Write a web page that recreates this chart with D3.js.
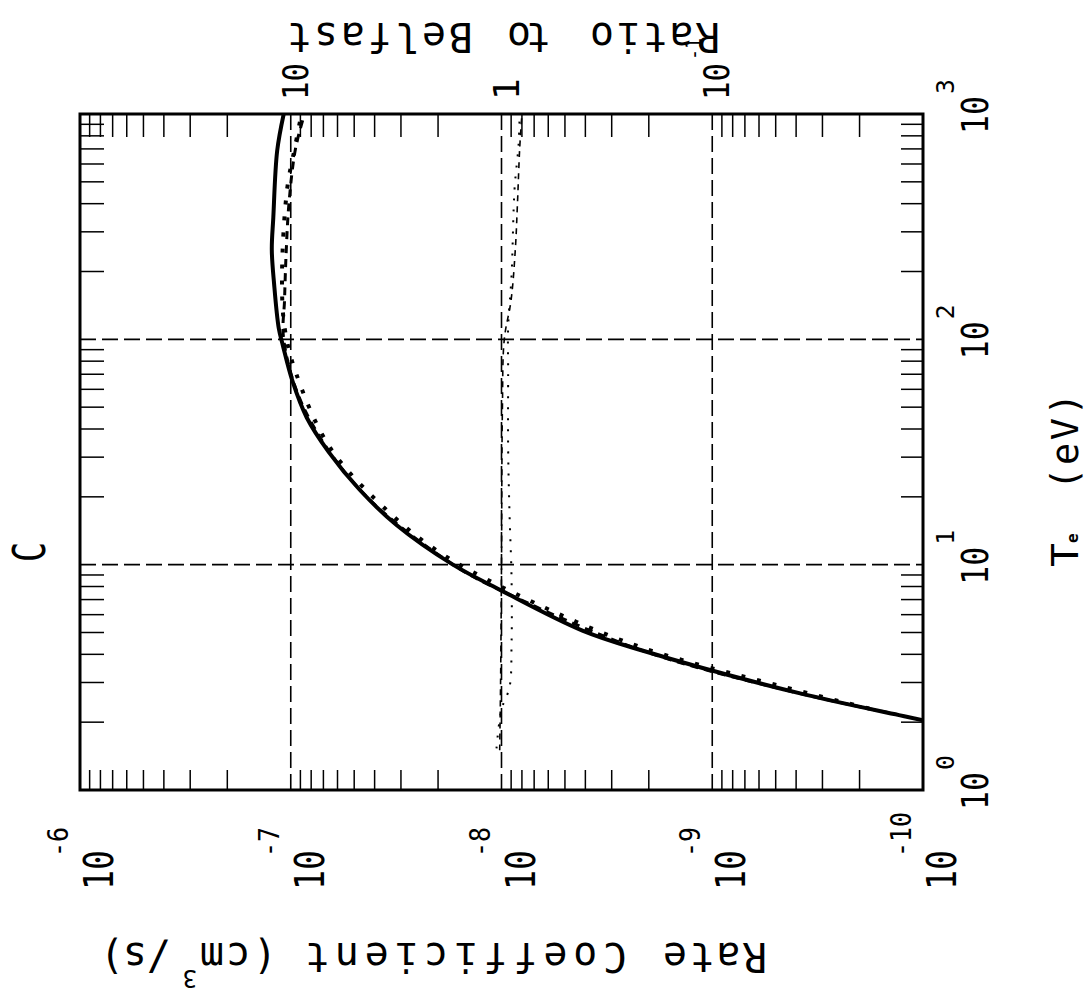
<!DOCTYPE html>
<html>
<head>
<meta charset="utf-8">
<script src="https://cdn.jsdelivr.net/npm/d3@7"></script>
<style>
body { margin: 0; background: #fff; }
svg { display: block; }
text { font-family: "DejaVu Sans Mono", monospace; fill: #000; }
</style>
</head>
<body>
<svg width="1092" height="1001"></svg>
<script>
var temps = [2.04, 2.15, 2.69, 4.16, 5.1, 7.67, 10, 15, 21.5, 31.6, 45, 65, 94, 112, 177, 250, 347, 686, 1000];
var rate = [1.0e-10, 1.3e-10, 3.87e-10, 2.15e-9, 4.13e-9, 1.0e-8, 1.7e-8, 3.15e-8, 4.71e-8, 6.6e-8, 8.4e-8, 9.8e-8, 1.09e-7, 1.14e-7, 1.2e-7, 1.23e-7, 1.21e-7, 1.16e-7, 1.08e-7];

var tempsDot = [2.3, 2.9, 4.5, 8.7, 12, 17, 33, 72, 113, 192, 465, 730, 1000];
var rateDot = [1.8e-10, 4.8e-10, 2.5e-9, 1.2e-8, 2.15e-8, 3.4e-8, 6.5e-8, 9.5e-8, 1.07e-7, 1.1e-7, 1.04e-7, 9.5e-8, 8.9e-8];

var tempsDash = [2.2, 2.69, 4.16, 7.67, 10, 21.5, 50, 100, 150, 250, 400, 700, 1000];
var rateDash = [1.45e-10, 3.9e-10, 2.15e-9, 1.0e-8, 1.7e-8, 4.7e-8, 8.7e-8, 1.08e-7, 1.07e-7, 1.05e-7, 1.02e-7, 9.5e-8, 8.6e-8];

var tempsRatioA = [1.53, 2.28, 2.86, 4.47, 8.7, 16.8, 32.6, 72, 113, 192, 465, 728, 1000];
var ratioA = [1.056, 1.0, 0.916, 0.896, 0.896, 0.916, 0.93, 0.93, 0.93, 0.896, 0.867, 0.83, 0.82];

var tempsRatioB = [1.5, 3, 10, 50, 100, 150, 250, 400, 700, 1000];
var ratioB = [1.02, 1.01, 1.0, 0.99, 0.97, 0.9, 0.86, 0.84, 0.82, 0.80];

// tick labels
var rateTicks = [1e-6, 1e-7, 1e-8, 1e-9, 1e-10];
var rateExp = ["-6", "-7", "-8", "-9", "-10"];
var tempTicks = [1, 10, 100, 1000];
var tempExp = ["0", "1", "2", "3"];
var ratioTicks = [10, 1, 0.1];
var ratioBase = ["10", "1", "10"];
var ratioExp = ["", "", "-1"];

var svg = d3.select("svg"),
	plotL = 80, plotR = 923, plotT = 114, plotB = 790;

var xRate = d3.scaleLog().domain([1e-6, 1e-10]).range([plotL, plotR]);
var xRatio = d3.scaleLog().domain([100, 0.01]).range([plotL, plotR]);
var yT = d3.scaleLog().domain([1, 1000]).range([plotB, plotT]);

svg.append("rect").attr("width", 1092).attr("height", 1001).attr("fill", "#fff");

svg.append("clipPath").attr("id", "frame")
	.append("rect").attr("x", plotL).attr("y", plotT)
	.attr("width", plotR - plotL).attr("height", plotB - plotT);

// dashed grid
var grid = svg.append("g").attr("stroke", "#000").attr("stroke-width", 1.6)
	.attr("stroke-dasharray", "16,6").attr("fill", "none");
grid.selectAll(".gv").data(rateTicks.slice(1, 4)).enter().append("line")
	.attr("x1", function(d) { return xRate(d); }).attr("x2", function(d) { return xRate(d); })
	.attr("y1", plotT).attr("y2", plotB);
grid.selectAll(".gh").data(tempTicks.slice(1, 3)).enter().append("line")
	.attr("y1", function(d) { return yT(d); }).attr("y2", function(d) { return yT(d); })
	.attr("x1", plotL).attr("x2", plotR);

// minor ticks on all four edges
var isMinor = function(d) { return Math.abs(Math.log10(d) - Math.round(Math.log10(d))) > 1e-6; };
var ticks = svg.append("g").attr("stroke", "#000").attr("stroke-width", 1.5);
var tTicks = yT.ticks().filter(isMinor);
ticks.selectAll(".tr").data(tTicks).enter().append("line")
	.attr("x1", plotR).attr("x2", plotR - 22)
	.attr("y1", function(d) { return yT(d); }).attr("y2", function(d) { return yT(d); });
ticks.selectAll(".tl").data(tTicks).enter().append("line")
	.attr("x1", plotL).attr("x2", plotL + 24)
	.attr("y1", function(d) { return yT(d); }).attr("y2", function(d) { return yT(d); });
ticks.selectAll(".rb").data(xRate.ticks().filter(isMinor)).enter().append("line")
	.attr("x1", function(d) { return xRate(d); }).attr("x2", function(d) { return xRate(d); })
	.attr("y1", plotB).attr("y2", plotB - 20);
ticks.selectAll(".rt").data(xRatio.ticks().filter(isMinor)).enter().append("line")
	.attr("x1", function(d) { return xRatio(d); }).attr("x2", function(d) { return xRatio(d); })
	.attr("y1", plotT).attr("y2", plotT + 23);

// curves
var plot = svg.append("g").attr("clip-path", "url(#frame)").attr("fill", "none").attr("stroke", "#000");

var rateLine = d3.line().curve(d3.curveCatmullRom)
	.x(function(d) { return xRate(d[1]); })
	.y(function(d) { return yT(d[0]); });
var ratioLine = d3.line().curve(d3.curveCatmullRom)
	.x(function(d) { return xRatio(d[1]); })
	.y(function(d) { return yT(d[0]); });

plot.append("path").datum(d3.zip(tempsRatioB, ratioB)).attr("d", ratioLine)
	.attr("stroke-width", 1.6).attr("stroke-dasharray", "6,5");
plot.append("path").datum(d3.zip(tempsRatioA, ratioA)).attr("d", ratioLine)
	.attr("stroke-width", 2).attr("stroke-dasharray", "2,9");

plot.append("path").datum(d3.zip(tempsDash, rateDash)).attr("d", rateLine)
	.attr("stroke-width", 3).attr("stroke-dasharray", "8,6");
plot.append("path").datum(d3.zip(tempsDot, rateDot)).attr("d", rateLine)
	.attr("stroke-width", 4).attr("stroke-dasharray", "4,12");
plot.append("path").datum(d3.zip(temps, rate)).attr("d", rateLine)
	.attr("stroke-width", 4);

// frame
svg.append("rect").attr("x", plotL).attr("y", plotT)
	.attr("width", plotR - plotL).attr("height", plotB - plotT)
	.attr("fill", "none").attr("stroke", "#000").attr("stroke-width", 3);

// rotated power-of-ten labels
var powLabel = function(x, y, base, exp, o) {
	var g = svg.append("g").attr("transform", "translate(" + x + "," + y + ") rotate(-90)");
	g.append("text").text(base).attr("font-size", o.size)
		.attr("textLength", base.length > 1 ? o.len : null).attr("lengthAdjust", "spacingAndGlyphs");
	if (exp) {
		g.append("text").text(exp).attr("x", o.ex).attr("y", o.ey).attr("font-size", o.esize)
			.attr("textLength", exp.length * o.eper).attr("lengthAdjust", "spacingAndGlyphs");
	}
};

rateTicks.forEach(function(v, i) {
	powLabel(xRate(v) + 33, 890, "10", rateExp[i], {size: 41, len: 40, ex: 33, ey: -45, esize: 28, eper: 15});
});
tempTicks.forEach(function(v, i) {
	powLabel(988, yT(v) + 20, "10", tempExp[i], {size: 38, len: 38, ex: 40, ey: -34, esize: 25, eper: 15});
});
ratioTicks.forEach(function(v, i) {
	powLabel(xRatio(v) + 17, 100, ratioBase[i], ratioExp[i], {size: 36, len: 37, ex: 40, ey: -28, esize: 22, eper: 11});
});

// panel title
svg.append("g").attr("transform", "translate(45,562) rotate(-90)")
	.append("text").text("C").attr("font-size", 45)
	.attr("textLength", 20).attr("lengthAdjust", "spacingAndGlyphs");

// Te axis title
var tg = svg.append("g").attr("transform", "translate(1078,567) rotate(-90)");
tg.append("text").text("T").attr("font-size", 37).attr("textLength", 24).attr("lengthAdjust", "spacingAndGlyphs");
tg.append("text").text("e").attr("x", 24).attr("y", 0).attr("font-size", 16).attr("font-weight", "bold");
tg.append("text").text("(eV)").attr("x", 77).attr("font-size", 37)
	.attr("textLength", 97).attr("lengthAdjust", "spacing");

// upside-down titles
var flipText = function(g, str, x0, x1, size, y) {
	g.append("text").text(str).attr("x", x0).attr("y", y || 0).attr("font-size", size)
		.attr("textLength", x1 - x0).attr("lengthAdjust", "spacing");
};
var rg = svg.append("g").attr("transform", "translate(767,943) rotate(180)");
flipText(rg, "Rate", 0, 104, 40);
flipText(rg, "Coefficient", 140, 462, 40);
flipText(rg, "(cm", 490, 567, 40);
flipText(rg, "3", 570, 584, 24, -27);
flipText(rg, "/s)", 597, 667, 40);

var bg = svg.append("g").attr("transform", "translate(720,23) rotate(180)");
flipText(bg, "Ratio", 0, 130, 40);
flipText(bg, "to", 170, 213, 40);
flipText(bg, "Belfast", 247, 433, 40);
</script>
</body>
</html>
